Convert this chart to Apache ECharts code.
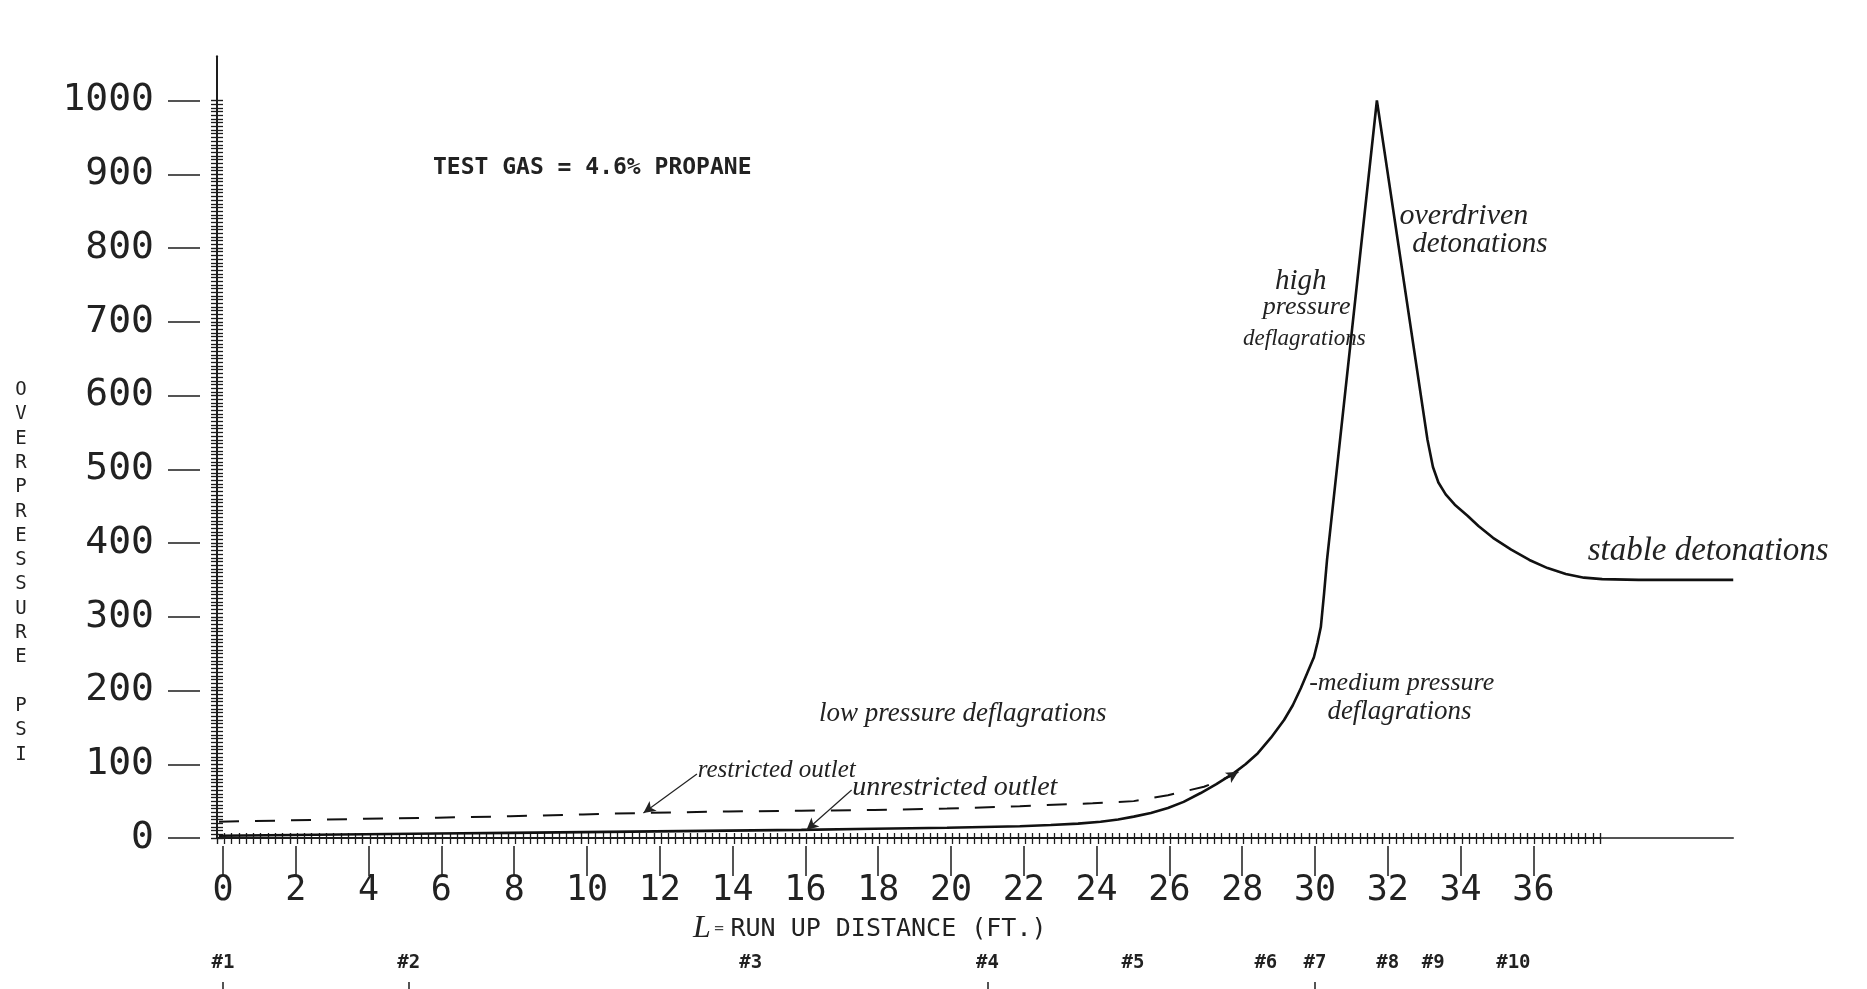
<!DOCTYPE html>
<html><head><meta charset="utf-8">
<script src="https://cdn.jsdelivr.net/npm/echarts@6/dist/echarts.min.js"></script>
<style>html,body{margin:0;padding:0;background:#fff}#c{width:1867px;height:989px}</style>
</head><body><div id="c"></div>
<script>
// ---------- data ----------
const xTickLabels = [0,2,4,6,8,10,12,14,16,18,20,22,24,26,28,30,32,34,36];
const yTickLabels = [0,100,200,300,400,500,600,700,800,900,1000];

// unrestricted outlet (solid)
const unrestrictedX = [0,2,4,6,8,10,12,14,16,18,20,22,22.85,23.6,24.22,24.7,25.13,25.6,26.07,26.5,26.97,27.4,27.88,28.2,28.54,28.9,29.26,29.5,29.72,29.9,30.08,30.18,30.27,30.36,30.44,31.81,33.2,33.35,33.5,33.7,33.95,34.3,34.6,35.0,35.5,36.0,36.5,37.0,37.5,38.0,39.0,41.6];
const unrestrictedY = [3,4,5,6,7,8,9,10,11,12.5,14,16,17.6,19.5,22,25,29,34,40.6,49,61,73,88,100,115,136,160,180,203,224,245,265,286,332,377,1000,540,503,482,466,452,437,423,407,391,377,366,358,353,351,350,350];

// restricted outlet (dashed)
const restrictedX = [0,2,4,6,8,10,11.66,14,16,18,20,22,22.93,24,25.13,26.07,27.06,27.8,28.0];
const restrictedY = [22,24,26,27.5,29.5,32,34,36,37,38,40,43,45,47,50,58,69.5,84,90];

// gauge stations along the tube
const sensorNames = ['#1','#2','#3','#4','#5','#6','#7','#8','#9','#10'];
const sensorPos   = [0,5.1,14.5,21.0,25.0,28.65,30.0,32.0,33.25,35.45];
const sensorTicked = ['#1','#2','#4','#7'];

// hand-written annotations (data coordinates of anchor)
const annTexts = ['low pressure deflagrations','restricted outlet','unrestricted outlet','high','pressure','deflagrations','overdriven','detonations','-medium pressure','deflagrations','stable detonations'];
const annX     = [20.43,13.15,17.4,29.72,29.88,29.82,32.43,32.78,29.95,30.45,37.6];
const annY     = [168,92,68,755,720,677,843,805,210,171,389];
const annAlign = ['center','left','left','center','center','center','left','left','left','left','left'];
const annSize  = [27,25,28,29,26,23,30,29,26,27,33];

// arrows [fromX, fromY, toX, toY]
const arrowRestricted   = [13.13,86.8,11.66,33.9];
const arrowUnrestricted = [17.38,65,16.14,10.8];
const arrowDashedEnd    = [27.8,84,28.0,90];

// ---------- layout ----------
const AXIS_X = 217, LABEL_X0 = 223, DATA_SHIFT = 0.055, PXFT = 36.4, Y0 = 838, PXPSI = 0.7375;
const RULER_XMAX = 38, RULER_YMAX = 1000, LINE_XMAX = 41.6, LINE_YMAX = 1060;
const INK = '#1d1d1d';
const MONO = '"DejaVu Sans Mono", "Liberation Mono", monospace';
const HAND = '"Liberation Serif", "DejaVu Serif", serif';

const zip = (a,b) => a.map((v,i)=>[v,b[i]]);
const arrowLine = (a) => [{coord:[a[0],a[1]]},{coord:[a[2],a[3]]}];

const noLine = {show:false, onZero:false};
const hidden = {axisLine:noLine, axisTick:{show:false}, axisLabel:{show:false}, splitLine:{show:false}};
const option = {
  backgroundColor:'#fff',
  animation:false,
  grid:[
    {left:AXIS_X, top:Y0-RULER_YMAX*PXPSI, width:RULER_XMAX*PXFT, height:RULER_YMAX*PXPSI},
    {left:AXIS_X, top:Y0-LINE_YMAX*PXPSI, width:(LINE_XMAX+DATA_SHIFT)*PXFT, height:LINE_YMAX*PXPSI},
    {left:LABEL_X0, top:Y0-RULER_YMAX*PXPSI, width:RULER_XMAX*PXFT, height:RULER_YMAX*PXPSI}
  ],
  xAxis:[
    {gridIndex:0, type:'value', position:'bottom', min:0, max:RULER_XMAX, interval:2,
     axisLine:{show:true, onZero:false, lineStyle:{color:INK, width:2}},
     axisTick:{show:true, length:6, lineStyle:{color:INK, width:1.4}},
     minorTick:{show:true, splitNumber:10, length:6, lineStyle:{color:INK, width:1.3}},
     axisLabel:{show:false}, splitLine:{show:false}},
    {gridIndex:0, type:'value', position:'bottom', min:0, max:RULER_XMAX, interval:2,
     axisLine:noLine,
     axisTick:{show:true, inside:true, length:5, lineStyle:{color:INK, width:1.4}},
     minorTick:{show:true, splitNumber:10, length:5, lineStyle:{color:INK, width:1.3}},
     axisLabel:{show:false}, splitLine:{show:false}},
    {gridIndex:2, type:'value', position:'bottom', offset:8, min:0, max:RULER_XMAX,
     axisLine:noLine,
     axisTick:{show:true, length:30, customValues:xTickLabels, lineStyle:{color:INK, width:1.5}},
     axisLabel:{show:true, customValues:xTickLabels, margin:27, fontFamily:MONO, fontSize:35, color:'#222',
       formatter:(v)=>String(v)},
     splitLine:{show:false}},
    {gridIndex:2, type:'value', position:'bottom', offset:144, min:0, max:RULER_XMAX,
     axisLine:noLine,
     axisTick:{show:true, length:8, customValues:sensorPos.filter((p,i)=>sensorTicked.includes(sensorNames[i])), lineStyle:{color:INK, width:1.5}},
     axisLabel:{show:true, inside:true, margin:9, customValues:sensorPos, fontFamily:MONO, fontSize:19, fontWeight:'bold', color:'#222',
       formatter:(v)=>{const i=sensorPos.findIndex(p=>Math.abs(p-v)<1e-6); return i>=0?sensorNames[i]:'';}},
     splitLine:{show:false}},
    {gridIndex:1, type:'value', position:'bottom', min:-DATA_SHIFT, max:LINE_XMAX,
     axisLine:{show:true, onZero:false, lineStyle:{color:INK, width:1.6}},
     axisTick:{show:false}, axisLabel:{show:false}, splitLine:{show:false}}
  ],
  yAxis:[
    {gridIndex:0, type:'value', position:'left', min:0, max:RULER_YMAX, interval:100,
     axisLine:{show:true, onZero:false, lineStyle:{color:INK, width:2}},
     axisTick:{show:true, length:6, lineStyle:{color:INK, width:1.4}},
     minorTick:{show:true, splitNumber:20, length:6, lineStyle:{color:INK, width:1.3}},
     axisLabel:{show:false}, splitLine:{show:false}},
    {gridIndex:0, type:'value', position:'left', min:0, max:RULER_YMAX, interval:100,
     axisLine:noLine,
     axisTick:{show:true, inside:true, length:6, lineStyle:{color:INK, width:1.4}},
     minorTick:{show:true, splitNumber:20, length:6, lineStyle:{color:INK, width:1.3}},
     axisLabel:{show:false}, splitLine:{show:false}},
    {gridIndex:0, type:'value', position:'left', offset:17, min:0, max:RULER_YMAX,
     axisLine:noLine,
     axisTick:{show:true, length:32, customValues:yTickLabels, lineStyle:{color:INK, width:1.5}},
     axisLabel:{show:true, customValues:yTickLabels, margin:46, fontFamily:MONO, fontSize:38, color:'#222',
       formatter:(v)=>String(v)},
     splitLine:{show:false}},
    {gridIndex:1, type:'value', position:'left', min:0, max:LINE_YMAX,
     axisLine:{show:true, onZero:false, lineStyle:{color:INK, width:2}},
     axisTick:{show:false}, axisLabel:{show:false}, splitLine:{show:false}},
    Object.assign({gridIndex:2, type:'value', position:'left', min:0, max:RULER_YMAX}, hidden)
  ],
  series:[
    {name:'unrestricted outlet', type:'line', xAxisIndex:4, yAxisIndex:3,
     data:zip(unrestrictedX, unrestrictedY), showSymbol:false, smooth:false,
     lineStyle:{color:'#111', width:2.6},
     markLine:{silent:true, symbol:['none','arrow'], symbolSize:[9,12], label:{show:false},
       lineStyle:{type:'solid', color:'#222', width:1.2},
       data:[arrowLine(arrowUnrestricted)]}},
    {name:'restricted outlet', type:'line', xAxisIndex:4, yAxisIndex:3,
     data:zip(restrictedX, restrictedY), showSymbol:false, smooth:false,
     lineStyle:{color:'#111', width:2, type:[20,16]},
     markLine:{silent:true, symbol:['none','arrow'], symbolSize:[9,12], label:{show:false},
       lineStyle:{type:'solid', color:'#222', width:1.2},
       data:[arrowLine(arrowRestricted), arrowLine(arrowDashedEnd)]}}
  ]
};

const chart = echarts.init(document.getElementById('c'), null, {renderer:'canvas'});
chart.setOption(option);

const g = [];
annTexts.forEach((t,i)=>{
  const p = chart.convertToPixel({xAxisIndex:4, yAxisIndex:3}, [annX[i], annY[i]]);
  g.push({type:'text', x:p[0], y:p[1], silent:true,
    style:{text:t, fontFamily:HAND, fontStyle:'italic', fontSize:annSize[i], fill:'#222',
      align:annAlign[i], verticalAlign:'middle', textAlign:annAlign[i], textVerticalAlign:'middle'}});
});
// static texts
g.push({type:'text', x:433, y:168, silent:true,
  style:{text:'TEST GAS = 4.6% PROPANE', fontFamily:MONO, fontWeight:'bold', fontSize:23, fill:'#222',
    align:'left', verticalAlign:'middle', textAlign:'left', textVerticalAlign:'middle'}});
g.push({type:'text', x:693, y:929, silent:true,
  style:{text:'{l|L} {e|=}  {t|RUN UP DISTANCE (FT.)}', fill:'#222', align:'left', verticalAlign:'middle', textAlign:'left', textVerticalAlign:'middle',
    rich:{l:{fontFamily:HAND, fontStyle:'italic', fontSize:32, fill:'#222'},
          e:{fontFamily:MONO, fontSize:16, fill:'#444'},
          t:{fontFamily:MONO, fontSize:25, fill:'#222'}}}});
g.push({type:'text', x:21, y:378, silent:true,
  style:{text:'O\nV\nE\nR\nP\nR\nE\nS\nS\nU\nR\nE\n\nP\nS\nI', fontFamily:MONO, fontSize:19, lineHeight:24.3, fill:'#222',
    align:'center', verticalAlign:'top', textAlign:'center', textVerticalAlign:'top'}});
chart.setOption({graphic:g});
</script>
</body></html>
